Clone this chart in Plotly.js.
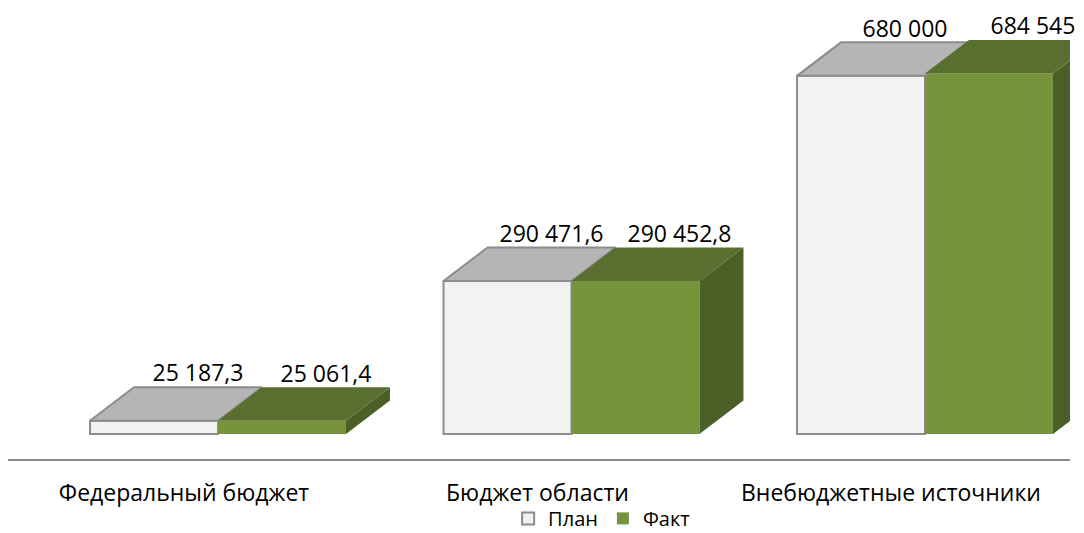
<!DOCTYPE html>
<html>
<head>
<meta charset="utf-8">
<script src="https://cdn.plot.ly/plotly-3.0.1.min.js"></script>
<style>html,body{margin:0;padding:0;background:#fff;}#chart{width:1084px;height:533px;}</style>
</head>
<body>
<div id="chart"></div>
<script>
// ---- data ----
const categories = ['Федеральный бюджет', 'Бюджет области', 'Внебюджетные источники'];
const seriesNames = ['План', 'Факт'];
const planValues = [25187.3, 290471.6, 680000];
const factValues = [25061.4, 290452.8, 684545];
const planLabels = ['25 187,3', '290 471,6', '680 000'];
const factLabels = ['25 061,4', '290 452,8', '684 545'];

// ---- geometry / style ----
const W = 1084, H = 533;
const margin = {l: 8, r: 14, t: 0, b: 74, autoexpand: false};
const plotW = W - margin.l - margin.r;
const plotH = H - margin.t - margin.b;
const pxPerCat = 353.5;
const firstLabelPx = 184;          // pixel centre of first category label
const barShiftPx = 34;             // bars sit deeper than the front axis
const depthPx = {x: 44, y: 33.5};  // 3D depth of each bar
const yRange = [-47500, 824000];
const bargap = 0.276;

const xRange = [-(firstLabelPx - margin.l) / pxPerCat, 0];
xRange[1] = xRange[0] + plotW / pxPerCat;
const x2Range = [xRange[0] - barShiftPx / pxPerCat, xRange[1] - barShiftPx / pxPerCat];
const unitsPerPxY = (yRange[1] - yRange[0]) / plotH;
const dX = depthPx.x / pxPerCat;
const dY = depthPx.y * unitsPerPxY;
const bw = (1 - bargap) / 2;

const colors = {
  planFront: '#f2f2f2', planTop: '#b5b5b5', planLine: '#8c8c8c',
  factFront: '#77933c', factTop: '#586f2f', factSide: '#4b6027'
};
const font = 'Open Sans, Noto Sans, sans-serif';
const fs = 23;

const idx = categories.map((c, i) => i);

function topFaces(values, offsetStart) {
  const xs = [], ys = [];
  values.forEach((v, i) => {
    const x0 = i + offsetStart, x1 = x0 + bw;
    xs.push(x0, x1, x1 + dX, x0 + dX, x0, null);
    ys.push(v, v, v + dY, v + dY, v, null);
  });
  return {xs, ys};
}
function sideFaces(values, offsetStart) {
  const xs = [], ys = [];
  values.forEach((v, i) => {
    const x1 = i + offsetStart + bw;
    xs.push(x1, x1 + dX, x1 + dX, x1, x1, null);
    ys.push(0, dY, v + dY, v, 0, null);
  });
  return {xs, ys};
}

const pTop = topFaces(planValues, -bw);
const fTop = topFaces(factValues, 0);
const fSide = sideFaces(factValues, 0);

const traces = [
  // invisible trace carrying the front (label) axis
  {x: idx, y: idx.map(() => 0), xaxis: 'x', yaxis: 'y', mode: 'markers',
   marker: {opacity: 0}, showlegend: false, hoverinfo: 'skip', type: 'scatter'},
  {type: 'bar', name: seriesNames[0], x: idx, y: planValues, xaxis: 'x2', yaxis: 'y',
   marker: {color: colors.planFront, line: {color: colors.planLine, width: 2}}},
  {type: 'bar', name: seriesNames[1], x: idx, y: factValues, xaxis: 'x2', yaxis: 'y',
   marker: {color: colors.factFront, line: {width: 0}}},
  {type: 'scatter', x: fSide.xs, y: fSide.ys, xaxis: 'x2', yaxis: 'y', mode: 'lines',
   fill: 'toself', fillcolor: colors.factSide, line: {width: 0, color: colors.factSide},
   showlegend: false, hoverinfo: 'skip'},
  {type: 'scatter', x: pTop.xs, y: pTop.ys, xaxis: 'x2', yaxis: 'y', mode: 'lines',
   fill: 'toself', fillcolor: colors.planTop, line: {width: 2, color: colors.planLine},
   showlegend: false, hoverinfo: 'skip'},
  {type: 'scatter', x: fTop.xs, y: fTop.ys, xaxis: 'x2', yaxis: 'y', mode: 'lines',
   fill: 'toself', fillcolor: colors.factTop, line: {width: 0, color: colors.factTop},
   showlegend: false, hoverinfo: 'skip'},
  {type: 'scatter', mode: 'text', x: idx.map(i => i - bw / 2 + dX), y: planValues.map(v => v + dY),
   text: planLabels, textposition: 'top center', xaxis: 'x2', yaxis: 'y',
   textfont: {family: font, size: fs, color: '#000'}, showlegend: false, hoverinfo: 'skip', cliponaxis: false},
  {type: 'scatter', mode: 'text', x: idx.map(i => i + bw / 2 + dX), y: factValues.map(v => v + dY),
   text: factLabels, textposition: 'top center', xaxis: 'x2', yaxis: 'y',
   textfont: {family: font, size: fs, color: '#000'}, showlegend: false, hoverinfo: 'skip', cliponaxis: false}
];

const layout = {
  width: W, height: H, margin: margin,
  paper_bgcolor: '#fff', plot_bgcolor: '#fff',
  barmode: 'group', bargap: bargap, bargroupgap: 0,
  font: {family: font, size: fs, color: '#000'},
  showlegend: true,
  legend: {orientation: 'h', x: 0.555, xanchor: 'center', xref: 'container',
           y: 0.064, yanchor: 'top', yref: 'container', bgcolor: 'rgba(0,0,0,0)',
           font: {family: font, size: 20, color: '#000'}, itemwidth: 30, traceorder: 'normal'},
  xaxis: {type: 'linear', range: xRange, tickvals: idx, ticktext: categories,
          showline: true, linecolor: '#8c8c8c', linewidth: 2, showgrid: false, zeroline: false,
          ticks: '', ticklabelstandoff: 12, tickfont: {family: font, size: fs, color: '#000'}, fixedrange: true},
  xaxis2: {type: 'linear', range: x2Range, overlaying: 'x', visible: false, fixedrange: true},
  yaxis: {range: yRange, visible: false, showgrid: false, zeroline: false, fixedrange: true},
  hovermode: false
};

Plotly.newPlot('chart', traces, layout, {staticPlot: true, displayModeBar: false});
</script>
</body>
</html>
